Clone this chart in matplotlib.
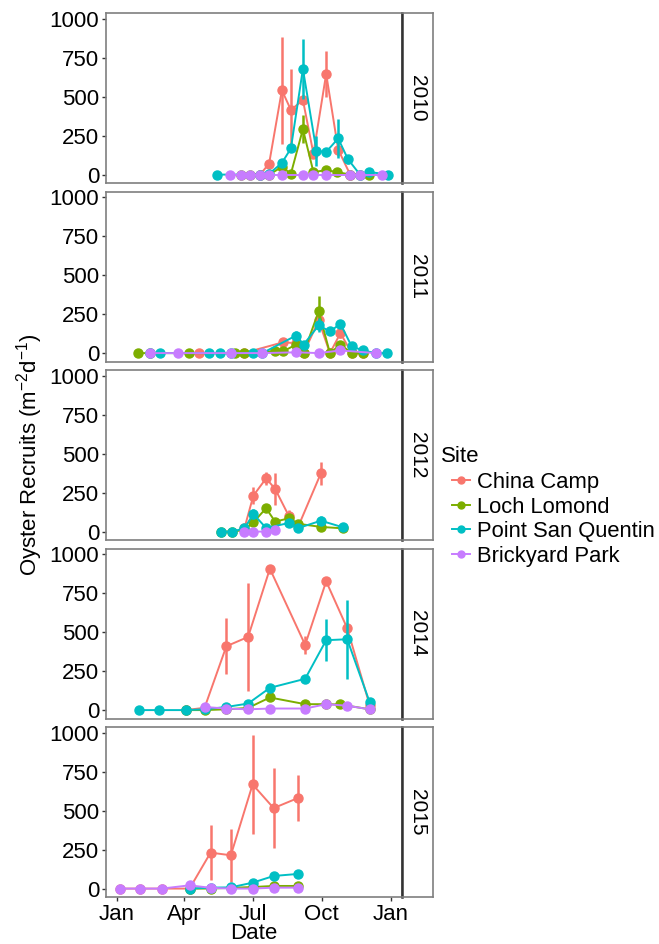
import numpy as np
import matplotlib
matplotlib.use('Agg')
import matplotlib.pyplot as plt
from matplotlib.lines import Line2D

plt.rcParams['font.family'] = ['Liberation Sans', 'DejaVu Sans']
plt.rcParams['mathtext.default'] = 'regular'

nan = np.nan

# 站點與顏色 (ggplot 預設色)
sites = ['China Camp', 'Loch Lomond', 'Point San Quentin', 'Brickyard Park']
colors = ['#F8766D', '#7CAE00', '#00BFC4', '#C77CFF']
years = ['2010', '2011', '2012', '2014', '2015']

# 每年的採樣日 (day of year) 與各站平均值 / 誤差
d2010 = [133, 151, 165, 178, 191, 203, 220, 232, 248, 262, 266, 279, 293, 295, 308, 311, 324, 336, 353, 362]
cc2010 = [nan, nan, nan, nan, 0, 71, 542, 415, 479, 135, nan, 647, nan, 161, nan, 0, nan, nan, nan, nan]
cc2010_err = [0, 0, 0, 0, 0, 0, 344, 266, 30, 30, 0, 148, 0, 40, 0, 0, 0, 0, 0, 0]
ll2010 = [nan, nan, 0, 0, 0, 0, 49, 6, 292, 17, nan, 28, 17, nan, nan, 0, 0, 0, nan, nan]
ll2010_err = [0, 0, 0, 0, 0, 0, 10, 0, 90, 0, 0, 5, 0, 0, 0, 0, 0, 0, 0, 0]
psq2010 = [0, nan, nan, nan, 0, 5, 75, 168, 679, nan, 152, 146, nan, 232, 99, nan, 0, 17, nan, 0]
psq2010_err = [0, 0, 0, 0, 0, 0, 15, 15, 192, 0, 95, 20, 0, 125, 30, 0, 0, 0, 0, 0]
bp2010 = [nan, 0, 0, 0, 0, 0, 0, nan, 0, 0, nan, 0, nan, nan, nan, 0, 0, nan, 0, nan]
bp2010_err = [0] * 20

d2011 = [28, 44, 57, 81, 96, 109, 123, 137, 152, 157, 169, 181, 194, 211, 222, 239, 249, 269, 284, 298, 313, 328, 345, 360]
cc2011 = [nan, nan, nan, nan, nan, 0, nan, nan, nan, nan, 0, nan, nan, nan, 70, 63, 0, 210, 0, 128, 0, 0, nan, nan]
cc2011_err = [0] * 17 + [40, 0, 30, 0, 0, 0, 0]
ll2011 = [0, 0, nan, nan, 0, nan, nan, nan, nan, 0, 0, nan, nan, 13, 12, 55, 0, 269, 0, 55, 0, 0, nan, nan]
ll2011_err = [0] * 17 + [100, 0, 10, 0, 0, 0, 0]
psq2011 = [nan, 0, 0, nan, nan, nan, 0, 0, 0, nan, nan, 0, 0, nan, nan, 113, 55, 178, 139, 188, 43, 17, 0, 0]
psq2011_err = [0] * 15 + [32, 0, 45, 20, 25, 0, 0, 0, 0]
bp2011 = [nan, 0, nan, 0, nan, nan, nan, nan, 0, nan, nan, nan, 0, nan, nan, 5, nan, 0, nan, 17, nan, nan, 0, nan]
bp2011_err = [0] * 24

d2012 = [139, 153, 170, 182, 199, 211, 229, 242, 272, 301]
cc2012 = [nan, nan, 20, 231, 342, 274, 103, 35, 375, nan]
cc2012_err = [0, 0, 0, 55, 40, 100, 35, 0, 75, 0]
ll2012 = [0, 0, 10, 60, 150, 64, 85, 50, 30, 21]
ll2012_err = [0, 0, 0, 0, 20, 0, 10, 20, 0, 0]
psq2012 = [0, 0, 20, 113, 23, nan, 55, 23, 70, 28]
psq2012_err = [0, 0, 0, 30, 0, 0, 0, 0, 30, 0]
bp2012 = [nan, nan, 0, 0, 0, 10, nan, nan, nan, nan]
bp2012_err = [0] * 10

d2014 = [30, 56, 92, 117, 146, 175, 204, 251, 279, 298, 307, 337]
cc2014 = [nan, nan, 0, 15, 410, 470, 908, 419, 827, nan, 526, 30]
cc2014_err = [0, 0, 0, 0, 180, 345, 25, 60, 15, 0, 30, 0]
ll2014 = [nan, nan, 0, 0, 5, 14, 81, 38, 38, 36, nan, 5]
ll2014_err = [0, 0, 0, 0, 0, 0, 15, 0, 0, 0, 0, 0]
psq2014 = [0, 0, 0, 5, 20, 42, 143, 201, 449, nan, 455, 50]
psq2014_err = [0, 0, 0, 0, 0, 0, 15, 25, 135, 0, 255, 0]
bp2014 = [nan, nan, nan, 20, 10, 5, 10, 10, 38, nan, 28, 5]
bp2014_err = [0] * 12

d2015 = [4, 31, 60, 97, 125, 152, 181, 209, 241]
cc2015 = [0, 0, 0, 0, 231, 214, 669, 517, 581]
cc2015_err = [0, 0, 0, 0, 175, 170, 320, 255, 150]
ll2015 = [nan, nan, nan, 0, 0, 5, 10, 17, 17]
ll2015_err = [0] * 9
psq2015 = [nan, nan, nan, 0, 6, 8, 38, 81, 94]
psq2015_err = [0, 0, 0, 0, 0, 0, 0, 15, 12]
bp2015 = [0, 0, 0, 21, 5, 0, 0, 6, 6]
bp2015_err = [0] * 9

days = [d2010, d2011, d2012, d2014, d2015]
values = [
    [cc2010, ll2010, psq2010, bp2010],
    [cc2011, ll2011, psq2011, bp2011],
    [cc2012, ll2012, psq2012, bp2012],
    [cc2014, ll2014, psq2014, bp2014],
    [cc2015, ll2015, psq2015, bp2015],
]
errors = [
    [cc2010_err, ll2010_err, psq2010_err, bp2010_err],
    [cc2011_err, ll2011_err, psq2011_err, bp2011_err],
    [cc2012_err, ll2012_err, psq2012_err, bp2012_err],
    [cc2014_err, ll2014_err, psq2014_err, bp2014_err],
    [cc2015_err, ll2015_err, psq2015_err, bp2015_err],
]

month_ticks = [0, 90, 181, 273, 365]
month_labels = ['Jan', 'Apr', 'Jul', 'Oct', 'Jan']

W, H = 659, 944
fig = plt.figure(figsize=(W / 100, H / 100), dpi=100)

border = '#7f7f7f'
left, right = 106, 402
strip_w = 31
panel_h = 170

for i, year in enumerate(years):
    top = 13 + i * 178.5
    ax = fig.add_axes([left / W, 1 - (top + panel_h) / H, (right - left) / W, panel_h / H])
    x = np.array(days[i], dtype=float)
    for j, site in enumerate(sites):
        y = np.array(values[i][j], dtype=float)
        e = np.array(errors[i][j], dtype=float)
        ok = ~np.isnan(y)
        ax.plot(x[ok], y[ok], color=colors[j], lw=1.4, zorder=2 + j)
        ax.vlines(x[ok], (y - e)[ok], (y + e)[ok], color=colors[j], lw=1.8, zorder=2 + j)
        ax.plot(x[ok], y[ok], 'o', color=colors[j], ms=6.5, zorder=2 + j)

    ax.set_xlim(-14.3, 380)
    ax.set_ylim(-54, 1038)
    ax.set_yticks([0, 250, 500, 750, 1000])
    ax.set_xticks(month_ticks)
    ax.tick_params(axis='both', direction='out', length=3, width=1, color='#333333',
                   labelsize=16, labelcolor='black', pad=2)
    if i < len(years) - 1:
        ax.set_xticklabels([])
        ax.tick_params(axis='x', length=0)
    else:
        ax.set_xticklabels(month_labels)
    for sp in ax.spines.values():
        sp.set_color(border)
        sp.set_linewidth(1.2)

    # 右側年份標籤
    sax = fig.add_axes([right / W, 1 - (top + panel_h) / H, strip_w / W, panel_h / H])
    sax.set_xticks([])
    sax.set_yticks([])
    for sp in sax.spines.values():
        sp.set_color(border)
        sp.set_linewidth(1.2)
    sax.spines['left'].set_color('#333333')
    sax.spines['left'].set_linewidth(1.8)
    sax.text(0.5, 0.5, year, rotation=270, ha='center', va='center', fontsize=15,
             transform=sax.transAxes)

# 軸標題
fig.text((left + right) / 2 / W, 1 - 939 / H, 'Date', ha='center', va='baseline', fontsize=16)
fig.text(30 / W, 1 - 455 / H, 'Oyster Recruits (m$^{-2}$d$^{-1}$)', rotation=90,
         ha='center', va='center', fontsize=16)

# 圖例
fig.text(441 / W, 1 - 456 / H, 'Site', ha='left', va='center', fontsize=16)
handles = [Line2D([0], [0], color=c, lw=1.4, marker='o', ms=5) for c in colors]
fig.legend(handles, sites, loc='upper left',
           bbox_to_anchor=(452 / W, 1 - 472 / H), frameon=False, fontsize=15.8,
           handlelength=0.8, handletextpad=0.35,
           labelspacing=0.16, borderpad=0, borderaxespad=0)

plt.savefig('out.png', dpi=100)
